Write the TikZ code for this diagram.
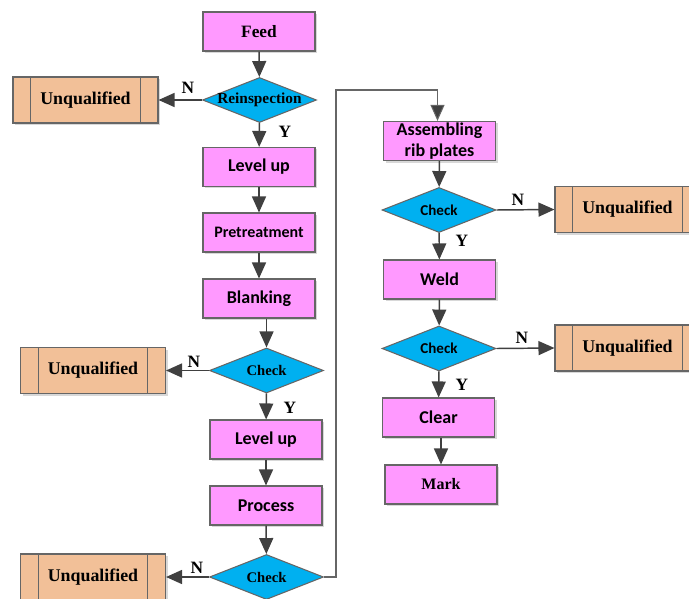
\documentclass[tikz,border=0pt]{standalone}
\usepackage{fontspec}
\setmainfont{Liberation Serif}
\newfontfamily\calfont{Carlito}
\usetikzlibrary{shapes.geometric,arrows.meta,shadows}

\definecolor{procpink}{HTML}{FF99FF}
\definecolor{deccyan}{HTML}{00B0F0}
\definecolor{badpeach}{HTML}{F2C098}
\definecolor{arrgray}{HTML}{404040}

\tikzset{
  shade/.style={drop shadow={shadow xshift=1.5pt,shadow yshift=-1.5pt,fill=black!30,opacity=.5}},
  proc/.style={draw=black!60,fill=procpink,line width=.8pt,minimum width=84pt,minimum height=29.25pt,
    inner sep=1pt,align=center,font=\calfont\bfseries\fontsize{13.5}{15.75}\selectfont,shade},
  procser/.style={proc,font=\bfseries\fontsize{13}{15}\selectfont},
  dec/.style={diamond,draw=black!60,fill=deccyan,line width=.8pt,minimum width=85.5pt,minimum height=33.75pt,
    inner xsep=-12pt,inner ysep=0pt,font=\bfseries\fontsize{11}{12}\selectfont},
  decsans/.style={dec,font=\calfont\bfseries\fontsize{11.3}{12}\selectfont},
  bad/.style={draw=black!60,fill=badpeach,line width=.8pt,minimum width=108.75pt,minimum height=34.5pt,
    font=\bfseries\fontsize{13.4}{15}\selectfont,shade,
    path picture={
      \draw[black!60,line width=.8pt] ([xshift=13.3pt]path picture bounding box.north west)
        -- ([xshift=13.3pt]path picture bounding box.south west);
      \draw[black!60,line width=.8pt] ([xshift=-13.3pt]path picture bounding box.north east)
        -- ([xshift=-13.3pt]path picture bounding box.south east);}},
  yn/.style={font=\bfseries\fontsize{13}{14}\selectfont,inner sep=0pt},
  arr/.style={draw=arrgray,line width=1.1pt,-{Triangle[length=12pt,width=10.5pt]}},
  back/.style={draw=black!60,line width=.8pt,-{Triangle[length=12pt,width=10.5pt,fill=arrgray]}}
}

\begin{document}
\begin{tikzpicture}[x=0.75pt,y=-0.75pt]
  \useasboundingbox (0,0) rectangle (689,599);
  \clip (0,0) rectangle (689,599);

  % left column
  \node[procser] (feed) at (259,31.5) {Feed};
  \node[dec,inner xsep=-27pt,inner ysep=-3pt,font=\bfseries\fontsize{11.5}{12}\selectfont] (reins) at (259.5,100) {Reinspection};
  \node[bad] (unq1) at (85.5,100) {Unqualified};
  \node[proc] (lvl1) at (259,167) {Level up};
  \node[proc,font=\calfont\bfseries\fontsize{12}{14}\selectfont] (pre) at (259,232.5) {Pretreatment};
  \node[proc] (blank) at (259,298.5) {Blanking};
  \node[dec] (chk1) at (266.5,370.5) {Check};
  \node[bad] (unq2) at (93,370.5) {Unqualified};
  \node[proc] (lvl2) at (266,439.5) {Level up};
  \node[proc] (prc) at (266,505.5) {Process};
  \node[dec] (chk2) at (266.5,577) {Check};
  \node[bad] (unq3) at (93,577) {Unqualified};

  % right column
  \node[proc] (asm) at (439.5,141) {Assembling\\rib plates};
  \node[decsans] (chk3) at (439,210) {Check};
  \node[bad] (unq4) at (627.5,209.5) {Unqualified};
  \node[proc] (weld) at (439.5,279.5) {Weld};
  \node[decsans] (chk4) at (439,348.5) {Check};
  \node[bad] (unq5) at (627.5,348) {Unqualified};
  \node[proc] (clear) at (438.5,417.5) {Clear};
  \node[procser,font=\bfseries\fontsize{12}{14}\selectfont] (mark) at (441,484.5) {Mark};

  % yes / no labels
  \node[yn] (n1) at (188,88) {N};
  \node[yn] (y1) at (285,132) {Y};
  \node[yn] (n2) at (194,362) {N};
  \node[yn] (y2) at (290,408) {Y};
  \node[yn] (n3) at (197,568) {N};
  \node[yn] (n4) at (518,200) {N};
  \node[yn] (y3) at (462,241) {Y};
  \node[yn] (n5) at (522,338) {N};
  \node[yn] (y4) at (462,385) {Y};

  % connectors
  \draw[arr] (feed) -- (reins);
  \draw[arr] (reins.west) -- (unq1.east);
  \draw[arr] (reins) -- (lvl1);
  \draw[arr] (lvl1) -- (pre);
  \draw[arr] (pre) -- (blank);
  \draw[arr] (blank.south -| chk1.north) -- (chk1.north);
  \draw[arr] (chk1.west) -- (unq2.east);
  \draw[arr] (chk1) -- (lvl2);
  \draw[arr] (lvl2) -- (prc);
  \draw[arr] (prc) -- (chk2);
  \draw[arr] (chk2.west) -- (unq3.east);

  \coordinate (bend) at (336,90);
  \draw[back] (chk2.east) -| (bend) -| ([xshift=-1.5pt]asm.north);

  \draw[arr] (asm) -- (chk3);
  \draw[arr] (chk3.east) -- (unq4.west);
  \draw[arr] (chk3) -- (weld);
  \draw[arr] (weld) -- (chk4);
  \draw[arr] (chk4.east) -- (unq5.west);
  \draw[arr] (chk4) -- (clear);
  \draw[arr] (clear.south -| mark.north) -- (mark.north);
\end{tikzpicture}
\end{document}
